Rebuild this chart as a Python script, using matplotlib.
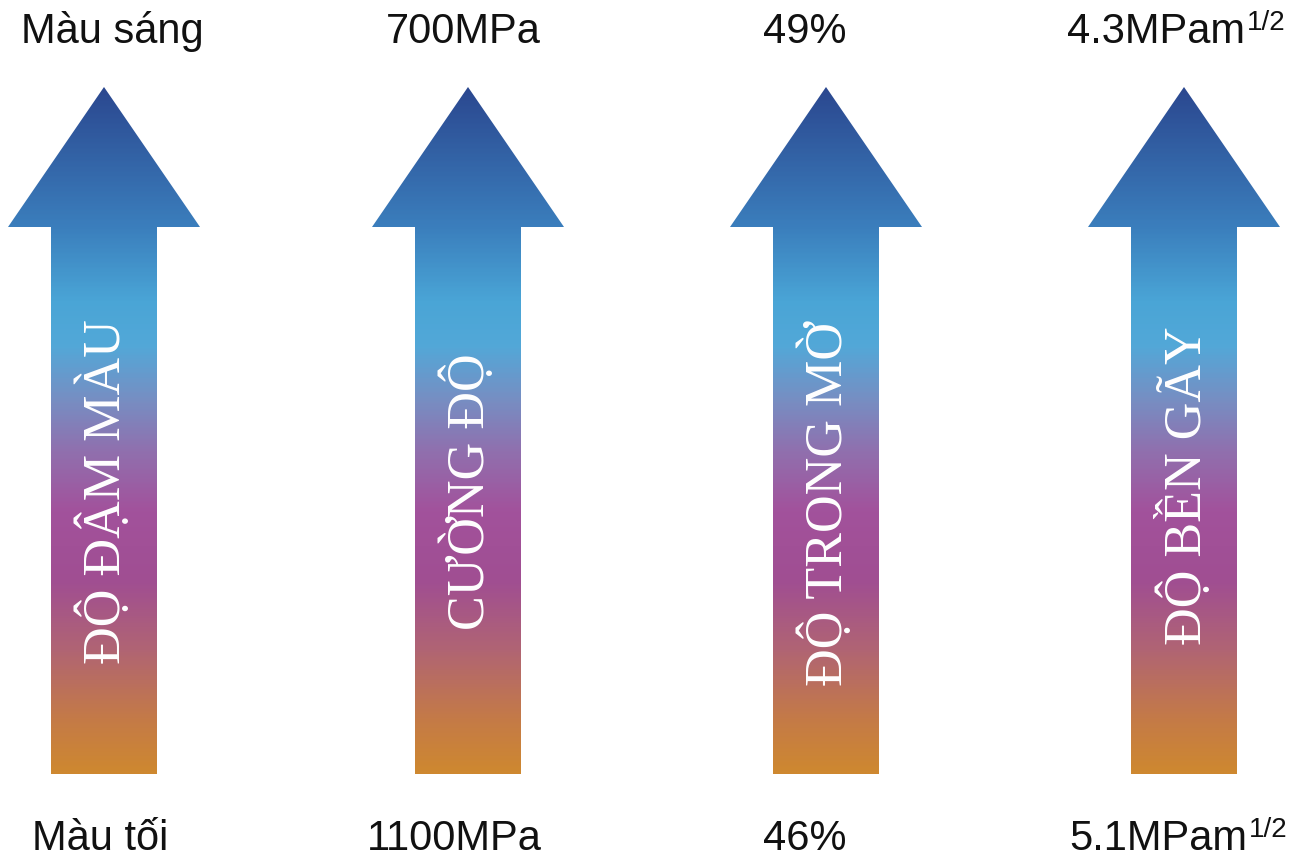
import matplotlib
matplotlib.use("Agg")
import matplotlib.pyplot as plt
import numpy as np
from matplotlib.colors import LinearSegmentedColormap
from matplotlib.patches import Polygon

# chart content
arrow_titles = ["ĐỘ ĐẬM MÀU", "CƯỜNG ĐỘ", "ĐỘ TRONG MỜ", "ĐỘ BỀN GÃY"]
top_labels = ["Màu sáng", "700MPa", "49%", "4.3MPam"]
bottom_labels = ["Màu tối", "1100MPa", "46%", "5.1MPam"]
unit_sup = ["", "", "", "1/2"]

# layout (pixel units, y grows downward)
arrow_x = [104, 468, 826, 1184]
title_y = [492, 492, 504, 486]
top_x = [112, 463, 805, 1156]
bottom_x = [100, 454, 805, 1158]
top_base, bottom_base = 43, 850
tip_y, head_y, base_y = 87, 227, 774
head_half, shaft_half = 96, 53

grad_stops = [(0.0, "#2b4890"), (0.204, "#3b7fbd"), (0.31, "#4aa5d6"),
              (0.375, "#52a8d8"), (0.45, "#7590c4"), (0.53, "#9070ae"),
              (0.617, "#a2529c"), (0.72, "#a04e92"), (0.82, "#b06474"),
              (0.92, "#c47a48"), (1.0, "#ce8830")]
cmap = LinearSegmentedColormap.from_list("arrow", grad_stops)

fig = plt.figure(figsize=(13, 8.64), dpi=100)
ax = fig.add_axes([0, 0, 1, 1])
ax.set_xlim(0, 1300)
ax.set_ylim(864, 0)
ax.axis('off')

grad = np.linspace(0, 1, 400).reshape(-1, 1)


def label(x, y, text, sup):
    t = ax.text(x, y, text, ha='center', va='baseline', fontsize=30,
                family='Liberation Sans', color='#111111')
    if sup:
        ax.annotate(sup, xy=(1.0, y - 13), xycoords=(t, 'data'),
                    xytext=(1.5, 0), textcoords='offset points',
                    ha='left', va='baseline', fontsize=20,
                    family='Liberation Sans', color='#111111')


for i, cx in enumerate(arrow_x):
    pts = [(cx, tip_y), (cx + head_half, head_y), (cx + shaft_half, head_y),
           (cx + shaft_half, base_y), (cx - shaft_half, base_y),
           (cx - shaft_half, head_y), (cx - head_half, head_y)]
    patch = Polygon(pts, closed=True, facecolor='none', edgecolor='none')
    ax.add_patch(patch)
    im = ax.imshow(grad, cmap=cmap, aspect='auto', origin='upper',
                   extent=(cx - head_half, cx + head_half, base_y, tip_y),
                   interpolation='bilinear')
    im.set_clip_path(patch)

    ax.text(cx, title_y[i], arrow_titles[i], rotation=90, ha='center', va='center',
            color='white', fontsize=37.5, family='Liberation Serif')

    label(top_x[i], top_base, top_labels[i], unit_sup[i])
    label(bottom_x[i], bottom_base, bottom_labels[i], unit_sup[i])

ax.set_xlim(0, 1300)
ax.set_ylim(864, 0)
fig.savefig("out.png", dpi=100, facecolor='white')
